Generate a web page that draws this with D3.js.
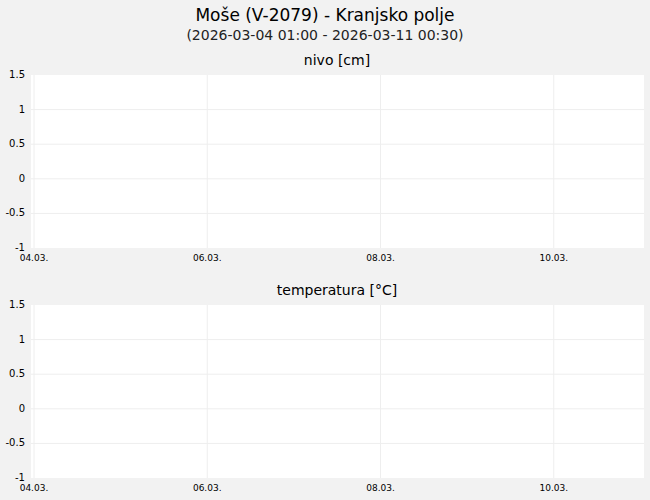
<!DOCTYPE html>
<html><head><meta charset="utf-8">
<script src="https://cdn.jsdelivr.net/npm/d3@7"></script>
<style>body{margin:0;background:#f2f2f2;font-family:"DejaVu Sans",sans-serif;}</style>
</head><body>
<svg width="650" height="500"></svg>
<script>
const title = "Moše (V-2079) - Kranjsko polje";
const subtitle = "(2026-03-04 01:00 - 2026-03-11 00:30)";
const panelTitles = ["nivo [cm]", "temperatura [°C]"];
const yTicks = [-1, -0.5, 0, 0.5, 1, 1.5];
const xTickDates = ["2026-03-04", "2026-03-06", "2026-03-08", "2026-03-10"];
const nivoValues = [];
const tempValues = [];

const svg = d3.select("svg");
svg.append("text").attr("x", 325).attr("y", 21).attr("text-anchor", "middle")
  .attr("font-size", 17).text(title);
svg.append("text").attr("x", 325).attr("y", 40).attr("text-anchor", "middle")
  .attr("font-size", 14).attr("fill", "#222").text(subtitle);

const parse = d3.timeParse("%Y-%m-%d");
const x = d3.scaleTime()
  .domain([parse("2026-03-04"), new Date(2026, 2, 11, 1, 0)])
  .range([34, 644]);
const left = 31, right = 644;

function panel(top, bottom, label, data) {
  const y = d3.scaleLinear().domain([-1, 1.5]).range([bottom, top]);
  svg.append("text").attr("x", 337).attr("y", top - 10).attr("text-anchor", "middle")
    .attr("font-size", 14).text(label);
  svg.append("rect").attr("x", left).attr("y", top).attr("width", right - left)
    .attr("height", bottom - top).attr("fill", "#fff");
  const g = svg.append("g");
  g.selectAll(".hy").data(yTicks.filter(d => d > -1 && d < 1.5)).join("line")
    .attr("x1", left).attr("x2", right).attr("y1", d => y(d)).attr("y2", d => y(d))
    .attr("stroke", "#eeeeee");
  g.selectAll(".vx").data(xTickDates.map(parse)).join("line")
    .attr("x1", d => x(d)).attr("x2", d => x(d)).attr("y1", top).attr("y2", bottom)
    .attr("stroke", "#eeeeee");
  g.selectAll(".yl").data(yTicks).join("text")
    .attr("x", 25).attr("y", d => y(d) + 3).attr("text-anchor", "end")
    .attr("font-size", 10).text(d => d);
  g.selectAll(".xl").data(xTickDates.map(parse)).join("text")
    .attr("x", d => x(d)).attr("y", bottom + 13).attr("text-anchor", "middle")
    .attr("font-size", 9).text(d => d3.timeFormat("%d.%m.")(d));
  if (data.length) {
    g.append("path").datum(data).attr("fill", "none").attr("stroke", "#2f7ed8")
      .attr("d", d3.line().x(d => x(d[0])).y(d => y(d[1])));
  }
}
panel(75, 248, panelTitles[0], nivoValues);
panel(305, 478, panelTitles[1], tempValues);
</script>
</body></html>
